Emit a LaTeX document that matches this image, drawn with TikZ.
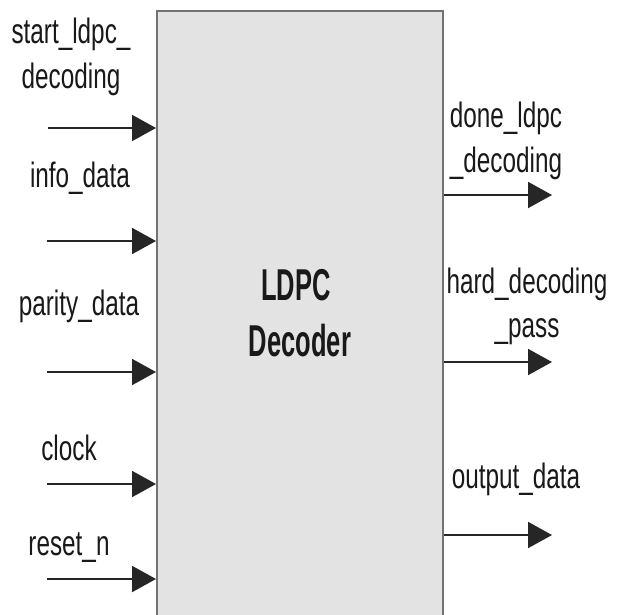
\documentclass[tikz,border=0pt]{standalone}
\usepackage{fontspec}
\usepackage{graphicx}
\setmainfont{Liberation Sans}
\usetikzlibrary{arrows.meta}
\newcommand{\vstretch}[1]{\scalebox{1}[1.45]{#1}}
\newcommand{\tstretch}[1]{\scalebox{1}[1.75]{#1}}
\begin{document}
\begin{tikzpicture}[x=1pt,y=-1pt,
  lbl/.style={anchor=base, inner sep=0pt, font=\fontsize{24.3}{28}\selectfont, text=black!90},
  ttl/.style={anchor=base, inner sep=0pt, font=\fontsize{25.5}{30}\selectfont\bfseries, text=black!90},
  sig/.style={line width=2pt, draw=black!85, -{Triangle[length=24pt,width=26pt]}},
  blk/.style={draw=black!55, line width=2pt, fill=black!11, minimum width=286pt, minimum height=619pt, inner sep=0pt}]
\useasboundingbox (0,0) rectangle (621,614);
\clip (0,0) rectangle (621,614);
\fill[white] (0,0) rectangle (621,614);
\node[blk] (box) at (300,320.5) {};
\node[ttl] (t1) at (296,300) {\tstretch{LDPC}};
\node[ttl] (t2) at (300,356) {\tstretch{Decoder}};
% inputs
\coordinate (i1) at (48,128);
\coordinate (i2) at (47,241);
\coordinate (i3) at (47,372);
\coordinate (i4) at (47,484);
\coordinate (i5) at (47,579);
\foreach \c in {i1,i2,i3,i4,i5} \draw[sig] (\c) -- (\c -| box.west);
% outputs
\coordinate (o1) at (552,195);
\coordinate (o2) at (552,362);
\coordinate (o3) at (552,535);
\foreach \c in {o1,o2,o3} \draw[sig] (\c -| box.east) -- (\c);
% labels
\node[lbl] (l1a) at (71,43) {\vstretch{start\_ldpc\_}};
\node[lbl] (l1b) at (71,88) {\vstretch{decoding}};
\node[lbl] (l2) at (80,187) {\vstretch{info\_data}};
\node[lbl] (l3) at (79,315) {\vstretch{parity\_data}};
\node[lbl] (l4) at (69,460) {\vstretch{clock}};
\node[lbl] (l5) at (69,555) {\vstretch{reset\_n}};
\node[lbl] (r1a) at (506,127) {\vstretch{done\_ldpc}};
\node[lbl] (r1b) at (506,172) {\vstretch{\_decoding}};
\node[lbl] (r2a) at (527,293) {\vstretch{hard\_decoding}};
\node[lbl] (r2b) at (527,337) {\vstretch{\_pass}};
\node[lbl] (r3) at (516,488) {\vstretch{output\_data}};
\end{tikzpicture}
\end{document}
